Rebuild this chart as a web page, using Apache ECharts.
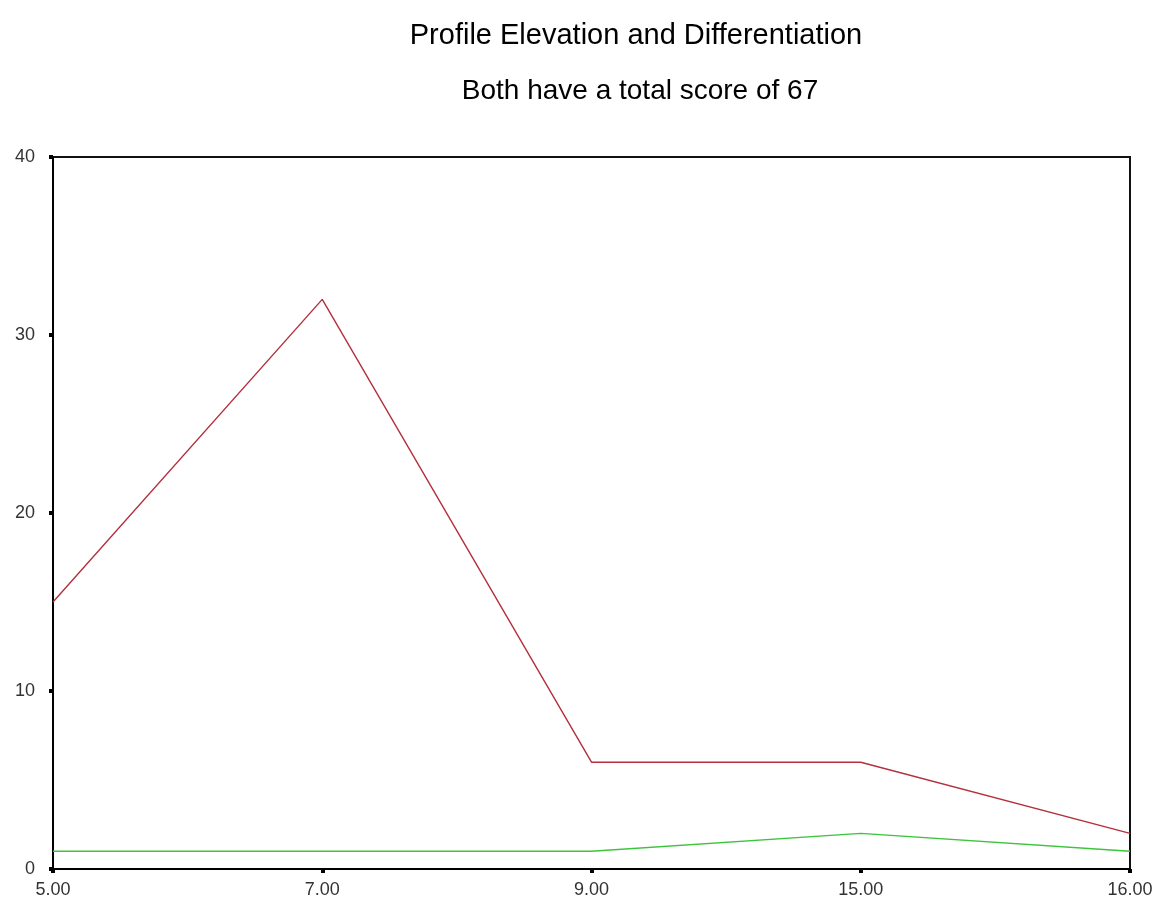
<!DOCTYPE html>
<html>
<head>
<meta charset="utf-8">
<script src="https://cdn.jsdelivr.net/npm/echarts@6/dist/echarts.min.js"></script>
<style>
  html, body { margin: 0; padding: 0; background: #fff; }
  #chart { width: 1166px; height: 906px; }
</style>
</head>
<body>
<div id="chart"></div>
<script>
// categories on the x axis
var categories = ['5.00', '7.00', '9.00', '15.00', '16.00'];
// the two profiles
var profileRed = [15, 32, 6, 6, 2];
var profileGreen = [1, 1, 1, 2, 1];

var chart = echarts.init(document.getElementById('chart'));

var option = {
  backgroundColor: '#fff',
  animation: false,
  title: [
    {
      text: 'Profile Elevation and Differentiation',
      left: 631,
      textAlign: 'center',
      top: 16,
      textStyle: { fontFamily: 'Liberation Sans', fontSize: 29, fontWeight: 'normal', color: '#000' }
    },
    {
      text: 'Both have a total score of 67',
      left: 635,
      textAlign: 'center',
      top: 72,
      textStyle: { fontFamily: 'Liberation Sans', fontSize: 28, fontWeight: 'normal', color: '#000' }
    }
  ],
  grid: {
    left: 53,
    right: 36,
    top: 157,
    bottom: 37,
    show: true,
    borderColor: '#111',
    borderWidth: 2
  },
  xAxis: {
    type: 'category',
    data: categories,
    boundaryGap: false,
    axisLine: { lineStyle: { color: '#000', width: 2 } },
    axisTick: { show: true, alignWithLabel: true, length: 4, lineStyle: { color: '#000', width: 4 } },
    axisLabel: { color: '#333', fontFamily: 'Liberation Sans', fontSize: 18, margin: 12 },
    splitLine: { show: false }
  },
  yAxis: {
    type: 'value',
    min: 0,
    max: 40,
    interval: 10,
    axisLine: { show: true, lineStyle: { color: '#000', width: 2 } },
    axisTick: { show: true, length: 4, lineStyle: { color: '#000', width: 4 } },
    axisLabel: { color: '#333', fontFamily: 'Liberation Sans', fontSize: 18, margin: 18 },
    splitLine: { show: false }
  },
  series: [
    {
      name: 'red',
      type: 'line',
      data: profileRed,
      symbol: 'none',
      lineStyle: { color: '#b3303c', width: 1.4 }
    },
    {
      name: 'green',
      type: 'line',
      data: profileGreen,
      symbol: 'none',
      lineStyle: { color: '#3cc43c', width: 1.4 }
    }
  ]
};

chart.setOption(option);
</script>
</body>
</html>
